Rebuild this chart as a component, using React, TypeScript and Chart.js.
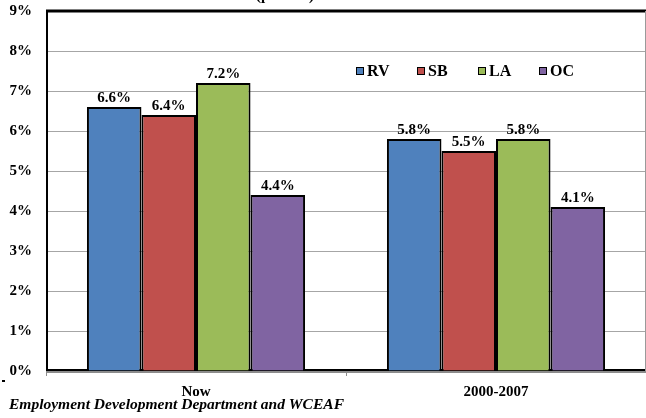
import { useEffect, useRef } from 'react';
import { Chart, registerables } from 'chart.js';

Chart.register(...registerables);

// Unemployment rate by county, current vs. 2000-2007 average
const categories = ['Now', '2000-2007'];
const seriesNames = ['RV', 'SB', 'LA', 'OC'];
const rvValues = [6.6, 5.8];
const sbValues = [6.4, 5.5];
const laValues = [7.2, 5.8];
const ocValues = [4.4, 4.1];
const seriesColors = ['#4F81BD', '#C0504D', '#9BBB59', '#8064A2'];
const yMin = 0;
const yMax = 9;
const yStep = 1;
const titleLine = '(percent)';
const sourceNote = 'Employment Development Department and WCEAF';

const SERIF = '"Liberation Serif", "Times New Roman", serif';
const boldFont = (size: number) => `bold ${size}px ${SERIF}`;

const fmtPct = (v: number) => `${v.toFixed(1)}%`;

// Plot frame: black border behind the bars, thin grey right edge
const framePlugin = {
  id: 'plotFrame',
  beforeDatasetsDraw(chart: any) {
    const { ctx, chartArea } = chart;
    const { left, top, right, bottom } = chartArea;
    ctx.save();
    ctx.fillStyle = '#000';
    ctx.fillRect(left, top - 1.5, right - left, 3);
    ctx.fillRect(left, top, 2, bottom - top);
    ctx.fillRect(left, bottom - 2, right - left, 2);
    ctx.fillStyle = '#9a9a9a';
    ctx.fillRect(right - 1, top, 1, bottom - top);
    ctx.restore();
  },
  afterDatasetsDraw(chart: any) {
    const { ctx, chartArea } = chart;
    const { left, right, bottom } = chartArea;
    ctx.save();
    // category axis line
    ctx.fillStyle = '#8c8c8c';
    ctx.fillRect(left, bottom, right - left, 2);

    // value labels above each bar
    ctx.fillStyle = '#000';
    ctx.font = boldFont(15);
    ctx.textAlign = 'center';
    ctx.textBaseline = 'alphabetic';
    chart.data.datasets.forEach((ds: any, i: number) => {
      const meta = chart.getDatasetMeta(i);
      meta.data.forEach((bar: any, j: number) => {
        ctx.fillText(fmtPct(ds.data[j]), bar.x, bar.y - 5);
      });
    });

    // legend inside the plot area
    const legendX = 356;
    const legendY = 71;
    const itemGap = 61;
    ctx.font = boldFont(16);
    ctx.textAlign = 'left';
    ctx.textBaseline = 'middle';
    chart.data.datasets.forEach((ds: any, i: number) => {
      const x = legendX + i * itemGap;
      ctx.fillStyle = ds.backgroundColor;
      ctx.fillRect(x, legendY - 4, 8, 8);
      ctx.strokeStyle = '#000';
      ctx.lineWidth = 1;
      ctx.strokeRect(x + 0.5, legendY - 3.5, 7, 7);
      ctx.fillStyle = '#000';
      ctx.fillText(ds.label, x + 11, legendY + 1);
    });
    ctx.restore();
  },
  afterDraw(chart: any) {
    const { ctx } = chart;
    ctx.save();
    ctx.fillStyle = '#000';
    // second title line, clipped by the top edge
    ctx.font = boldFont(15);
    ctx.textAlign = 'center';
    ctx.textBaseline = 'alphabetic';
    ctx.fillText(titleLine, 285, 0);
    // source note
    ctx.font = `italic bold 15.5px ${SERIF}`;
    ctx.textAlign = 'left';
    ctx.fillText(sourceNote, 9, 409);
    ctx.fillRect(2, 380, 3, 2);
    ctx.restore();
  },
};

export default function App() {
  const canvasRef = useRef<HTMLCanvasElement | null>(null);

  useEffect(() => {
    const canvas = canvasRef.current;
    if (!canvas) return;
    const seriesData = [rvValues, sbValues, laValues, ocValues];
    const chart = new Chart(canvas, {
      type: 'bar',
      data: {
        labels: categories,
        datasets: seriesNames.map((name, i) => ({
          label: name,
          data: seriesData[i],
          backgroundColor: seriesColors[i],
          borderColor: '#000',
          borderWidth: 2,
          borderSkipped: 'start',
          categoryPercentage: 0.727,
          barPercentage: 1,
        })),
      },
      options: {
        animation: false,
        responsive: false,
        devicePixelRatio: 1,
        layout: { padding: { top: 11, right: 0, bottom: 0, left: 0 } },
        plugins: {
          legend: { display: false },
          tooltip: { enabled: false },
          title: { display: false },
        },
        scales: {
          x: {
            grid: {
              display: true,
              drawOnChartArea: false,
              drawTicks: true,
              tickLength: 5,
              color: '#8c8c8c',
              offset: true,
            },
            border: { display: false },
            ticks: { font: { family: SERIF, size: 15, weight: 'bold' }, color: '#000', padding: 7 },
            afterFit: (scale: any) => {
              scale.height = 47;
              scale.paddingLeft = 0;
              scale.paddingRight = 0;
            },
          },
          y: {
            min: yMin,
            max: yMax,
            ticks: {
              stepSize: yStep,
              callback: (v: any) => `${v}%`,
              font: { family: SERIF, size: 15, weight: 'bold' },
              color: '#000',
              padding: 14,
            },
            grid: { color: '#a6a6a6', drawTicks: false, lineWidth: 1 },
            border: { display: false },
            afterFit: (scale: any) => {
              scale.width = 46;
              scale.paddingTop = 0;
              scale.paddingBottom = 0;
            },
          },
        },
      } as any,
      plugins: [framePlugin],
    });
    return () => chart.destroy();
  }, []);

  return (
    <div style={{ position: 'absolute', left: 0, top: 0, width: 646, height: 418, background: '#fff' }}>
      <canvas ref={canvasRef} width={646} height={418} style={{ display: 'block' }} />
    </div>
  );
}
